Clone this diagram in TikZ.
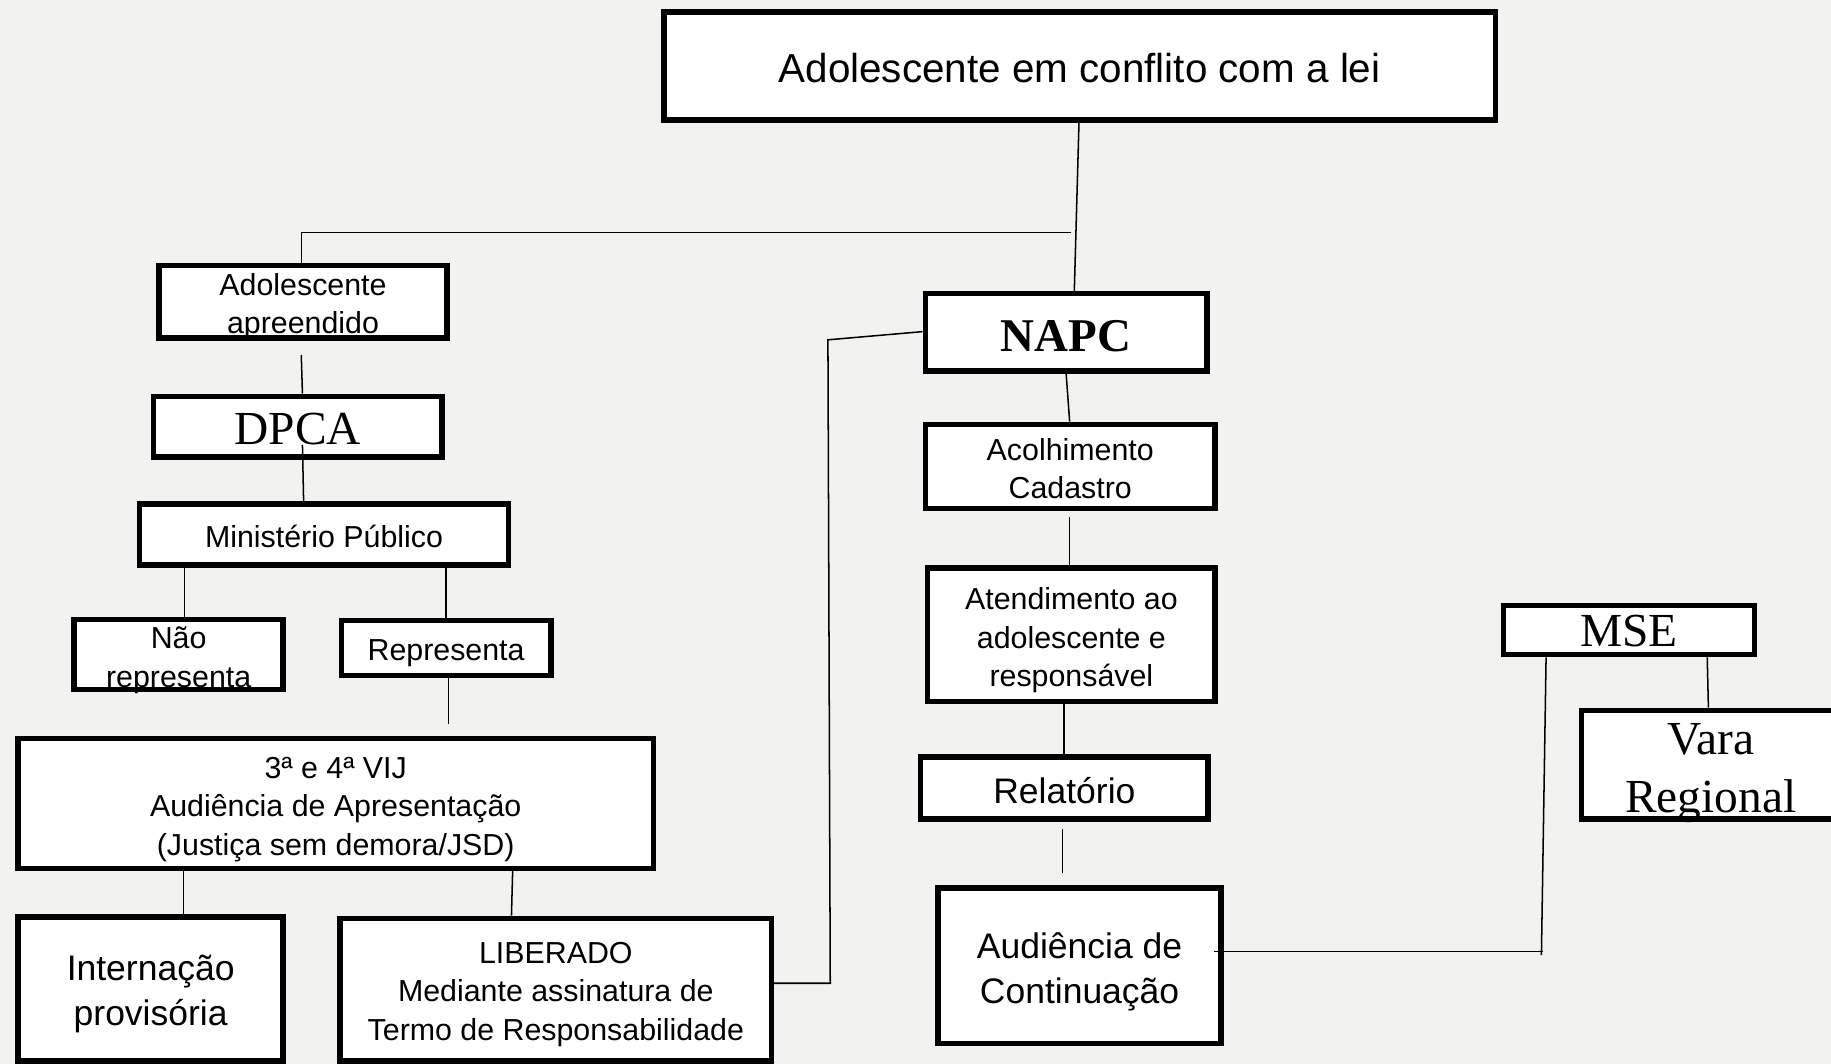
\documentclass[tikz,border=0pt]{standalone}
\usepackage{fontspec}
\setmainfont{Liberation Sans}
\newfontfamily\serifnm{Liberation Serif}
\usetikzlibrary{calc}
\definecolor{bg}{RGB}{242,242,240}
\begin{document}
\begin{tikzpicture}[x=0.5pt,y=-0.5pt,
  box/.style={draw=black,fill=white,line width=2.4pt,inner sep=0pt,rectangle},
  txt/.style={inner sep=0pt,align=center},
  fsn/.style={font=\fontsize{13pt}{16.5pt}\selectfont},
  fsb/.style={font=\fontsize{15.2pt}{19.2pt}\selectfont},
  fss/.style={font=\serifnm\fontsize{20.3pt}{24.5pt}\selectfont},
  fssb/.style={font=\serifnm\bfseries\fontsize{20.1pt}{24pt}\selectfont},
  conn/.style={draw=black,line width=0.65pt}]
\fill[bg] (0,0) rectangle (1568,911);
\useasboundingbox (0,0) rectangle (1568,911);
\clip (0,0) rectangle (1568,911);

% boxes
\node[box,minimum width=356.1pt,minimum height=46.1pt] (top) at (924.5,56.5) {};
\node[box,minimum width=123.1pt,minimum height=31.1pt] (aa) at (259.5,258.5) {};
\node[box,minimum width=123.6pt,minimum height=26.1pt] (dpca) at (255,365.5) {};
\node[box,minimum width=158.1pt,minimum height=26.1pt] (mp) at (277.5,457.5) {};
\node[box,minimum width=89.6pt,minimum height=30.1pt] (nao) at (153,560.5) {};
\node[box,minimum width=89.6pt,minimum height=23.6pt] (rep) at (382,555) {};
\node[box,minimum width=272.1pt,minimum height=55.6pt] (vij) at (287.5,688) {};
\node[box,minimum width=113.6pt,minimum height=61.6pt] (int) at (129,847) {};
\node[box,minimum width=184.6pt,minimum height=61.1pt] (lib) at (476,847.5) {};
\node[box,minimum width=120.6pt,minimum height=33.1pt] (napc) at (913,284.5) {};
\node[box,minimum width=124.1pt,minimum height=36.1pt] (acol) at (916.5,399.5) {};
\node[box,minimum width=123.1pt,minimum height=57.1pt] (aten) at (917.5,543.5) {};
\node[box,minimum width=123.1pt,minimum height=26.6pt] (rel) at (911.5,675) {};
\node[box,minimum width=121.1pt,minimum height=66.6pt] (aud) at (924.5,827) {};
\node[box,minimum width=107.6pt,minimum height=21.1pt] (mse) at (1395,539.5) {};
\node[box,minimum width=110.6pt,minimum height=46.6pt] (vara) at (1465,655) {};

% texts
\node[txt,font=\fontsize{17.3pt}{20pt}\selectfont] (top-t) at ($(top.center)+(0,2)$) {Adolescente em conflito com a lei};
\node[txt,fsn] (aa-t) at ($(aa.center)+(0,4)$) {Adolescente\\apreendido};
\node[txt,fss] (dpca-t) at ($(dpca.center)+(0,2)$) {DPCA};
\node[txt,fsn] (mp-t) at ($(mp.center)+(0,2)$) {Ministério Público};
\node[txt,fsn] (nao-t) at ($(nao.center)+(0,5)$) {Não\\representa};
\node[txt,fsn] (rep-t) at ($(rep.center)+(0,4)$) {Representa};
\node[txt,fsn] (vij-t) at ($(vij.center)+(0,5)$) {3ª e 4ª VIJ\\Audiência de Apresentação\\(Justiça sem demora/JSD)};
\node[txt,fsb] (int-t) at ($(int.center)+(0,4)$) {Internação\\provisória};
\node[txt,fsn] (lib-t) at ($(lib.center)+(0,4)$) {LIBERADO\\Mediante assinatura de\\Termo de Responsabilidade};
\node[txt,fssb] (napc-t) at ($(napc.center)+(0,3)$) {NAPC};
\node[txt,fsn] (acol-t) at ($(acol.center)+(0,2)$) {Acolhimento\\Cadastro};
\node[txt,fsn] (aten-t) at ($(aten.center)+(0,5)$) {Atendimento ao\\adolescente e\\responsável};
\node[txt,fsb] (rel-t) at ($(rel.center)+(0,2)$) {Relatório};
\node[txt,fsb] (aud-t) at ($(aud.center)+(0,5)$) {Audiência de\\Continuação};
\node[txt,fss] (mse-t) at ($(mse.center)+(0,1)$) {MSE};
\node[txt,fss] (vara-t) at ($(vara.center)+(0,7)$) {Vara\\Regional};

% connectors
\draw[conn] ($(top.south)+(-0.5,0)$) -- ($(napc.north)+(7,0)$);
\draw[conn] ($(top.south)+(-7.5,94)$) -| ($(aa.north)+(-1.5,0)$);
\draw[conn] ($(aa.south)+(-1.5,12)$) -- ($(dpca.north)+(4,0)$);
\draw[conn] ($(dpca.south)+(4,-13)$) -- ($(mp.north)+(-17.5,0)$);
\draw[conn] ($(mp.south)+(-119.5,0)$) -- ($(nao.north)+(5,0)$);
\draw[conn] ($(mp.south)+(104.5,0)$) -- (rep.north);
\draw[conn] ($(rep.south)+(2,0)$) -- ($(vij.north)+(96.5,-10)$);
\draw[conn] ($(vij.south)+(-130.5,0)$) -- ($(int.north)+(28,0)$);
\draw[conn] ($(vij.south)+(151.5,0)$) -- ($(lib.north)+(-38,0)$);
\draw[conn] ($(lib.east)+(0,-5.5)$) -- ++(48,0) -- ++(-2,-551) -- ($(napc.west)+(0,-0.5)$);
\draw[conn] (napc.south) -- ($(acol.north)+(-0.5,0)$);
\draw[conn] ($(acol.south)+(-0.5,5)$) -- ($(aten.north)+(-1.5,0)$);
\draw[conn] ($(aten.south)+(-6.5,0)$) -- ($(rel.north)+(-0.5,0)$);
\draw[conn] ($(rel.south)+(-1.5,6)$) -- ($(aud.north)+(-14.5,-10)$);
\coordinate (j) at ($(aud.east)+(273,-12)$);
\draw[conn] ($(aud.east)+(-8,-12)$) -- (j);
\draw[conn] ($(mse.south)+(-71,0)$) -- ($(j)+(-1,3)$);
\draw[conn] ($(mse.south)+(67,0)$) -- ($(vara.north)+(-2,0)$);
\end{tikzpicture}
\end{document}
